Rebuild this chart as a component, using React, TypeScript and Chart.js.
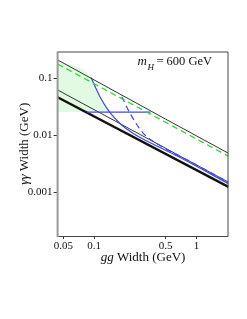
import React, { useEffect, useRef } from "react";
import { Chart, registerables } from "chart.js";

Chart.register(...registerables);

const FONT = '"Liberation Serif", "Times New Roman", serif';

// Axis ranges (log)
const X_MIN = 0.0438;
const X_MAX = 2.06;
const Y_MIN = 1.71e-4;
const Y_MAX = 0.295;

const X_TICKS = [0.05, 0.1, 0.5, 1];
const X_TICK_LABELS = ["0.05", "0.1", "0.5", "1"];
const Y_TICKS = [0.001, 0.01, 0.1];
const Y_TICK_LABELS = ["0.001", "0.01", "0.1"];

const X_TITLE_ITALIC = "gg";
const X_TITLE_REST = " Width (GeV)";
const Y_TITLE_ITALIC = "γγ";
const Y_TITLE_REST = " Width (GeV)";
const NOTE_M = "m";
const NOTE_SUB = "H";
const NOTE_REST = "= 600 GeV";

// Series
const UPPER_X = [0.0438, 0.5, 2.06];
const UPPER_Y = [0.21, 0.0192, 0.00483];

const GREEN_X = [0.0438, 2.06];
const GREEN_Y = [0.178, 0.00428];

const LOWER_X = [0.0438, 2.06];
const LOWER_Y = [0.0624, 0.0015];

const THICK_X = [0.0438, 2.06];
const THICK_Y = [0.0465, 0.00124];

const BLUE_SOLID_X = [0.093, 0.1137, 0.1426, 0.183, 0.241, 0.409, 0.692, 2.06];
const BLUE_SOLID_Y = [0.103, 0.0475, 0.0249, 0.0155, 0.01076, 0.00649, 0.00408, 0.001415];

const BLUE_DASH_X = [0.186, 0.224, 0.302, 0.441, 0.867, 2.06];
const BLUE_DASH_Y = [0.0475, 0.0243, 0.01084, 0.0066, 0.00347, 0.0015];

const HORIZ_X = [0.085, 0.355];
const HORIZ_Y = [0.0255, 0.0255];

const FILL_FLOOR = 0.0255;

const pts = (xs: number[], ys: number[]) => xs.map((x, i) => ({ x, y: ys[i] }));

const framePlugin = {
  id: "frame",
  afterDatasetsDraw(chart: any) {
    const { ctx, chartArea } = chart;
    const { left, top, right, bottom } = chartArea;
    ctx.save();
    ctx.strokeStyle = "#444";
    ctx.lineWidth = 1;
    ctx.beginPath();
    ctx.moveTo(left, top + 0.5);
    ctx.lineTo(right - 0.5, top + 0.5);
    ctx.lineTo(right - 0.5, bottom + 0.5);
    ctx.lineTo(left, bottom + 0.5);
    ctx.stroke();
    ctx.strokeStyle = "#999";
    ctx.lineWidth = 2;
    ctx.beginPath();
    ctx.moveTo(left, top);
    ctx.lineTo(left, bottom + 1);
    ctx.stroke();
    ctx.restore();
  },
};

const textPlugin = {
  id: "texts",
  afterDraw(chart: any) {
    const { ctx, chartArea } = chart;
    const { left, top, right, bottom } = chartArea;
    ctx.save();
    ctx.fillStyle = "#111";
    ctx.textBaseline = "middle";
    ctx.textAlign = "left";
    const it = `italic 13px ${FONT}`;
    const nm = `13px ${FONT}`;

    // x title
    ctx.font = it;
    const w1 = ctx.measureText(X_TITLE_ITALIC).width;
    ctx.font = nm;
    const w2 = ctx.measureText(X_TITLE_REST).width;
    let sx = (left + right) / 2 - (w1 + w2) / 2;
    ctx.font = it;
    ctx.fillText(X_TITLE_ITALIC, sx, 258);
    ctx.font = nm;
    ctx.fillText(X_TITLE_REST, sx + w1, 258);

    // y title
    ctx.save();
    ctx.translate(25, (top + bottom) / 2);
    ctx.rotate(-Math.PI / 2);
    ctx.font = it;
    const v1 = ctx.measureText(Y_TITLE_ITALIC).width;
    ctx.font = nm;
    const v2 = ctx.measureText(Y_TITLE_REST).width;
    const sy = -(v1 + v2) / 2;
    ctx.font = it;
    ctx.fillText(Y_TITLE_ITALIC, sy, 0);
    ctx.font = nm;
    ctx.fillText(Y_TITLE_REST, sy + v1, 0);
    ctx.restore();

    // m_H note
    ctx.textBaseline = "alphabetic";
    ctx.font = `italic 13px ${FONT}`;
    const mx = 137.5;
    ctx.fillText(NOTE_M, mx, 65);
    const mw = ctx.measureText(NOTE_M).width;
    ctx.font = `italic 9px ${FONT}`;
    ctx.fillText(NOTE_SUB, mx + mw + 0.5, 70);
    const hw = ctx.measureText(NOTE_SUB).width;
    ctx.font = `12.5px ${FONT}`;
    ctx.fillText(NOTE_REST, mx + mw + hw + 3, 65);
    ctx.restore();
  },
};

export default function App() {
  const ref = useRef<HTMLCanvasElement>(null);

  useEffect(() => {
    if (!ref.current) return;
    const fillPts = [pts(UPPER_X, UPPER_Y)[0]].concat(
      pts(BLUE_SOLID_X, BLUE_SOLID_Y).filter((p) => p.y >= FILL_FLOOR * 0.95)
    );
    const blue = "rgb(60, 70, 245)";
    const chart = new Chart(ref.current, {
      type: "line",
      data: {
        datasets: [
          {
            data: pts(UPPER_X, UPPER_Y),
            borderColor: "#333",
            borderWidth: 1,
            pointRadius: 0,
            fill: false,
          },
          {
            data: pts(GREEN_X, GREEN_Y),
            borderColor: "rgb(40, 220, 40)",
            borderWidth: 1.2,
            borderDash: [6, 4],
            pointRadius: 0,
            fill: false,
          },
          {
            data: pts(HORIZ_X, HORIZ_Y),
            borderColor: blue,
            borderWidth: 1.2,
            pointRadius: 0,
            fill: false,
          },
          {
            data: pts(BLUE_DASH_X, BLUE_DASH_Y),
            borderColor: blue,
            borderWidth: 1.2,
            borderDash: [6, 4],
            pointRadius: 0,
            cubicInterpolationMode: "monotone",
            fill: false,
          },
          {
            data: pts(BLUE_SOLID_X, BLUE_SOLID_Y),
            borderColor: blue,
            borderWidth: 1.2,
            pointRadius: 0,
            cubicInterpolationMode: "monotone",
            fill: false,
          },
          {
            data: pts(LOWER_X, LOWER_Y),
            borderColor: "#333",
            borderWidth: 1,
            pointRadius: 0,
            fill: false,
          },
          {
            data: pts(THICK_X, THICK_Y),
            borderColor: "#111",
            borderWidth: 2.5,
            pointRadius: 0,
            fill: false,
          },
          {
            data: fillPts,
            borderWidth: 0,
            borderColor: "rgba(0,0,0,0)",
            backgroundColor: "rgb(226, 250, 226)",
            pointRadius: 0,
            cubicInterpolationMode: "monotone",
            fill: { value: FILL_FLOOR },
          },
        ],
      },
      options: {
        responsive: false,
        animation: false,
        events: [],
        layout: { padding: { left: 0, right: 18.5, top: 51.5, bottom: 53.2 } },
        plugins: {
          legend: { display: false },
          tooltip: { enabled: false },
        },
        scales: {
          x: {
            type: "logarithmic",
            position: "bottom",
            min: X_MIN,
            max: X_MAX,
            afterBuildTicks: (s: any) => {
              s.ticks = X_TICKS.map((v) => ({ value: v }));
            },
            afterFit: (s: any) => {
              s.height = 29.8;
            },
            ticks: {
              autoSkip: false,
              maxRotation: 0,
              padding: 1,
              color: "#111",
              font: { family: FONT, size: 11 },
              callback: (_v: any, i: number) => X_TICK_LABELS[i],
            },
            grid: { display: true, drawOnChartArea: false, drawTicks: true, tickLength: 3, color: "#333" },
            border: { display: false },
          },
          y: {
            type: "logarithmic",
            position: "left",
            min: Y_MIN,
            max: Y_MAX,
            afterBuildTicks: (s: any) => {
              s.ticks = Y_TICKS.map((v) => ({ value: v }));
            },
            afterFit: (s: any) => {
              s.width = 57.6;
            },
            ticks: {
              autoSkip: false,
              padding: 1,
              color: "#111",
              font: { family: FONT, size: 11 },
              callback: (_v: any, i: number) => Y_TICK_LABELS[i],
            },
            grid: { display: true, drawOnChartArea: false, drawTicks: true, tickLength: 4, color: "#333" },
            border: { display: false },
          },
        },
      },
      plugins: [framePlugin, textPlugin],
    } as any);
    return () => chart.destroy();
  }, []);

  return (
    <div style={{ position: "absolute", left: 0, top: 0, width: 247, height: 319, background: "#fff" }}>
      <canvas ref={ref} width={247} height={319} style={{ display: "block", width: 247, height: 319 }} />
    </div>
  );
}
